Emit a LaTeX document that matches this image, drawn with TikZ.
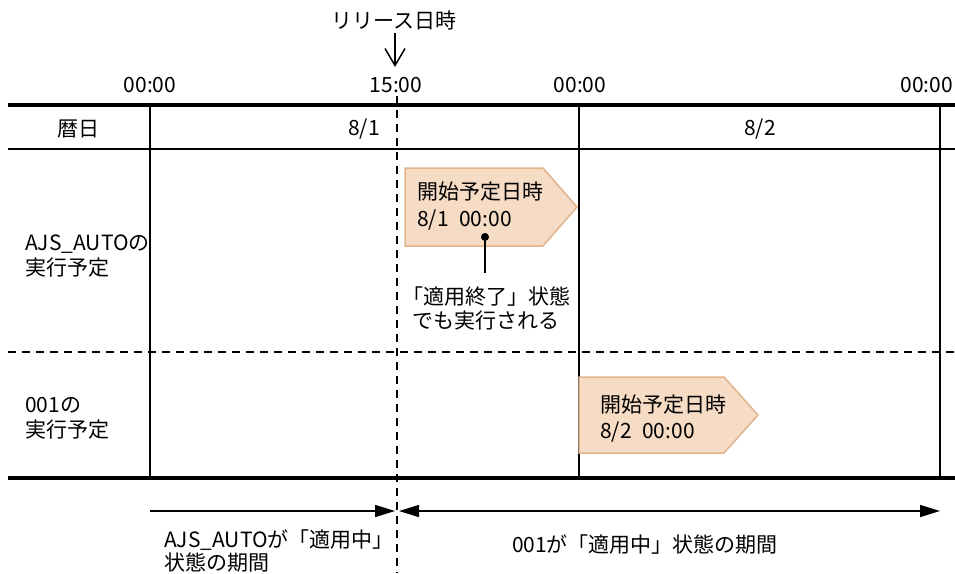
\documentclass[tikz,border=0pt]{standalone}
\usepackage{fontspec}
\setmainfont{Noto Sans CJK JP}
\usetikzlibrary{arrows.meta}
\definecolor{boxfill}{RGB}{246,219,197}
\definecolor{boxdraw}{RGB}{224,180,140}
\newcommand{\hs}{\hspace{0.5em}}
\begin{document}
\begin{tikzpicture}[x=1pt,y=-1pt,
  font=\fontsize{21}{25}\selectfont,
  thickrule/.style={line width=4pt},
  thinrule/.style={line width=1.8pt},
  dashrule/.style={line width=1.8pt, dash pattern=on 8pt off 6pt},
  lbl/.style={inner sep=0pt},
  leftlbl/.style={inner sep=0pt, anchor=west, align=left},
  flag/.style={fill=boxfill, draw=boxdraw, line width=1.5pt, line join=miter},
  spanarrow/.style={line width=1.5pt}]
\useasboundingbox (0,0) rectangle (955,573);

% grid lines
\coordinate (tl) at (8,105); \coordinate (tr) at (955,105);
\coordinate (cl) at (8,149); \coordinate (cr) at (955,149);
\coordinate (ml) at (8,352); \coordinate (mr) at (955,352);
\coordinate (bl) at (8,478); \coordinate (br) at (955,478);
\draw[thinrule] (cl) -- (cr);
\draw[dashrule] (ml) -- (mr);
\coordinate (v1t) at (150,105); \coordinate (v1b) at (150,478);
\coordinate (v2t) at (579,105); \coordinate (v2b) at (579,478);
\coordinate (v3t) at (940,105); \coordinate (v3b) at (940,478);
\draw[thinrule] (v1t) -- (v1b);
\draw[thinrule] (v2t) -- (v2b);
\draw[thinrule] (v3t) -- (v3b);
\draw[thickrule] (tl) -- (tr);
\draw[thickrule] (bl) -- (br);
\coordinate (dvt) at (397,96); \coordinate (dvb) at (397,573);
\draw[dashrule] (dvt) -- (dvb);

% release marker
\node[lbl] (rel) at (394,20) {リリース日時};
\coordinate (rela) at (395,33); \coordinate (relb) at (395,67);
\draw[line width=1.5pt, -{Straight Barb[length=17pt,width=20pt]}] (rela) -- (relb);

% time labels
\node[lbl] (t0) at (150,85) {00:00};
\node[lbl] (t15) at (396,85) {15:00};
\node[lbl] (t24) at (580,85) {00:00};
\node[lbl, anchor=east] (t48) at (953,85) {00:00};

% calendar row
\node[lbl] (cal) at (78,129) {暦日};
\node[lbl] (d1) at (364,129) {8/1};
\node[lbl] (d2) at (760,129) {8/2};

% row labels
\node[leftlbl] (rowa) at (25,256) {AJS\_AUTOの\\実行予定};
\node[leftlbl] (rowb) at (25,418) {001の\\実行予定};

% flag 1
\draw[flag] (405,168) -- (543,168) -- (577,207) -- (543,246) -- (405,246) -- cycle;
\node[leftlbl, font=\fontsize{21}{27}\selectfont] (f1) at (417,206) {開始予定日時\\8/1\hs 00:00};
\node[circle, fill=black, inner sep=0pt, minimum size=8pt] (dot) at (485,237) {};
\coordinate (dotend) at (485,273);
\draw[line width=1.5pt] (dot.center) -- (dotend);
\node[lbl, align=center, font=\fontsize{21}{24}\selectfont] (note) at (486,308) {「適用終了」状態\\でも実行される};

% flag 2
\draw[flag] (579,377) -- (724,377) -- (758,415) -- (724,453) -- (579,453) -- cycle;
\node[leftlbl, font=\fontsize{21}{26}\selectfont] (f2) at (600,419) {開始予定日時\\8/2\hs 00:00};

% period arrows
\coordinate (a1s) at (150,511); \coordinate (a1e) at (395,511);
\coordinate (a2s) at (399,511); \coordinate (a2e) at (940,511);
\draw[spanarrow, -{Triangle[length=20pt,width=12pt]}] (a1s) -- (a1e);
\draw[spanarrow, {Triangle[length=20pt,width=12pt]}-{Triangle[length=20pt,width=12pt]}] (a2s) -- (a2e);
\node[leftlbl, font=\fontsize{21}{23}\selectfont] (pa) at (164,550.5) {AJS\_AUTOが「適用中」\\状態の期間};
\node[lbl] (pb) at (645,545) {001が「適用中」状態の期間};
\end{tikzpicture}
\end{document}
